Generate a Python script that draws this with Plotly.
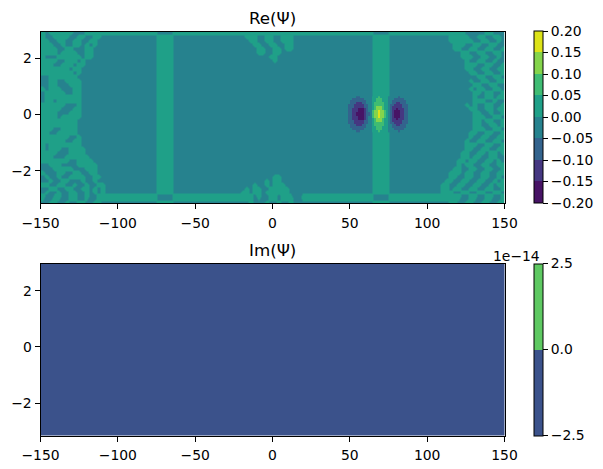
"""Re/Im wavefunction contour panels with stepped viridis colorbars."""

import numpy as np
import plotly.graph_objects as go

W, H = 603, 469
OFFSET = 8  # the page body has an 8px margin, the figure sits inside it
FIG_W, FIG_H = W - OFFSET, H - OFFSET

# band index of each cell (0 = lowest level band), top row first
left_edge = [
    "4344444433344444", "4334444334433443", "4433443344334433", "4443343344343433",
    "4444334433344333", "4444344443344333", "4333444444344333", "4444334443433333",
    "4443344434433333", "4444444344333333", "4444444434333333", "3344444443333333",
    "3344334444333333", "3344333444333333", "4344433344333333", "3444443344333333",
    "3444444444333333", "3443444444333333", "4444443334333333", "4444433344333333",
    "4444333444333333", "4444344444333333", "4444444443333333", "4444444443333333",
    "4443344443333333", "4433444443333333", "4444444334333333", "4444443344333333",
    "4344444444333333", "4344433444433333", "4444333444433333", "4443334444443333",
    "4444444334444333", "3344433334444433", "3334444433344433", "4333443344334433",
    "3433433444433443", "3343344333433433", "4433443343343344", "3344334433443434",
    "3433433443343434", "4334433443343344", "3344334334433443",
]
right_edge = [
    "4444443333344333", "3344444334433443", "3344444433443343", "3334443344334433",
    "3334433443344334", "3333344334433443", "3333344433443343", "3333334334433433",
    "3333334443344334", "3333334433443344", "3333333443344334", "3333333334433443",
    "3333333433443344", "3333333344334433", "3333333434433443", "3333333344344334",
    "3333333343344344", "3333333344433433", "3333334343344334", "3333333443344344",
    "3333333344334334", "3333333344433443", "3333333344344334", "3333333344334434",
    "3333333344433443", "3333333443344334", "3333333433443344", "3333334334433443",
    "3333334443344334", "3333334433443344", "3333344334434434", "3333344344334433",
    "3333443443344343", "3333434433443344", "3334433443344334", "3344434433443344",
    "3344334433443343", "3443344334433434", "4433443344334344", "4434433443344334",
    "4443344334433443", "4444433443344334", "3344334433443344",
]
centre_top = [
    "4444444444444444", "3444334433444333", "3344334433444333", "3334433443344333",
    "3333443344344333", "3333443344333333", "3333333443333333", "3333333343333333",
]
centre_bottom = [
    "3333333344333333", "3333334344333333", "3334334344433333", "3434433444443333",
    "4434434444443333", "4443433443444334", "3343334334334333",
]
blob_rows = [
    "33333223333334445444433333233333",
    "33322222233334455544433322222333",
    "33222222223334455544433222222233",
    "33222111223334555554433221122233",
    "32221111122334555554432211112223",
    "32221111122334566654432111112223",
    "32211100012334566654432110111223",
    "32211100012335667665432100011223",
    "32211000012235667665432100011223",
    "32211000012235667665432100011223",
    "32211100012335667665432100011223",
    "32211100012334566654432110111223",
    "32221111122334566654432111112223",
    "32221111122334555554432211112223",
    "33222111223334555554433221122233",
    "33222222223334455544433222222233",
    "33322222233334455544433322222333",
    "33333223333334445444433333233333",
]

re_levels = [-0.20, -0.15, -0.10, -0.05, 0.00, 0.05, 0.10, 0.15, 0.20]
re_colors = ["#471365", "#453781", "#33638d", "#26828e", "#1fa088", "#3fbc73", "#84d44b", "#dde318"]
im_levels = [-2.5e-14, 0.0, 2.5e-14]
im_colors = ["#3b528b", "#5ec962"]
im_labels = ["\u22122.5", "0.0", "2.5"]
im_value = -1.25e-14
x_ticks = [-150, -100, -50, 0, 50, 100, 150]
y_ticks = [-2, 0, 2]

x_range = [-150, 150]
y_range = [-3.1416, 2.945]

# cell edges of the sampled grids
x_edges = np.linspace(-150, 150, 117)
y_edges = np.concatenate([[2.945], np.linspace(2.856, -2.682, 40), [-2.788, -3.036, -3.1416]])
blob_x = np.linspace(47.84, 89.22, 33)
blob_y = np.linspace(0.645, -0.629, 19)


def stepped_scale(colors):
    scale = []
    n = len(colors)
    for i, c in enumerate(colors):
        scale.append([i / n, c])
        scale.append([(i + 1) / n, c])
    return scale


def to_values(rows):
    # band index -> middle of that level band
    return [[-0.175 + 0.05 * int(ch) for ch in row] for row in rows[::-1]]


def x_paper(px):
    return (px - OFFSET) / FIG_W


def y_paper(py):
    return (H - py) / FIG_H


# stitch the full Re grid together
mid_left = "3" * 13 + "4" * 4 + "3" * 17
mid_left_cross = "4" * 13 + "3" * 4 + "4" * 17
mid_right = "3" * 17 + "4" * 4 + "3" * 13
mid_right_cross = "4" * 17 + "3" * 4 + "4" * 13
re_rows = []
for r in range(43):
    cross = r in (0, 41)
    if r < len(centre_top):
        centre = centre_top[r]
    elif r >= 43 - len(centre_bottom):
        centre = centre_bottom[r - (43 - len(centre_bottom))]
    else:
        centre = "3" * 16
    re_rows.append(left_edge[r] + (mid_left_cross if cross else mid_left) + centre
                   + (mid_right_cross if cross else mid_right) + right_edge[r])
assert all(len(row) == 116 for row in re_rows), [len(row) for row in re_rows]
assert all(len(row) == 32 for row in blob_rows)

font = dict(family="DejaVu Sans", size=13.9, color="black")
title_font = dict(family="DejaVu Sans", size=16.7, color="black")
cb_common = dict(
    thickness=9, thicknessmode="pixels", lenmode="fraction", x=x_paper(534), xanchor="left",
    xpad=0, ypad=0, yanchor="bottom", outlinecolor="black", outlinewidth=1,
    ticks="outside", ticklen=5, tickwidth=1, tickcolor="black", tickfont=font,
)

re_scale = stepped_scale(re_colors)
im_scale = stepped_scale(im_colors)

fig = go.Figure()
fig.add_trace(go.Heatmap(
    x=x_edges, y=y_edges[::-1], z=to_values(re_rows), zsmooth="best",
    zmin=re_levels[0], zmax=re_levels[-1], colorscale=re_scale, hoverinfo="skip",
    colorbar=dict(cb_common, y=y_paper(203), len=171.5 / FIG_H,
                  tickvals=re_levels, tickformat=".2f"),
))
fig.add_trace(go.Heatmap(
    x=blob_x, y=blob_y[::-1], z=to_values(blob_rows),
    zmin=re_levels[0], zmax=re_levels[-1], colorscale=re_scale, showscale=False, hoverinfo="skip",
))
fig.add_trace(go.Heatmap(
    x=x_range, y=y_range, z=[[im_value, im_value], [im_value, im_value]],
    zmin=im_levels[0], zmax=im_levels[-1], colorscale=im_scale, hoverinfo="skip",
    xaxis="x2", yaxis="y2",
    colorbar=dict(cb_common, y=y_paper(435.5), len=171.5 / FIG_H,
                  tickvals=im_levels, ticktext=im_labels),
))

axis = dict(showline=True, mirror=True, linecolor="black", linewidth=1, showgrid=False,
            zeroline=False, ticks="outside", ticklen=5, tickwidth=1, tickcolor="black",
            tickfont=font)
x_domain = [x_paper(40.5), x_paper(504.5)]
fig.update_layout(
    width=FIG_W, height=FIG_H, margin=dict(l=0, r=0, t=0, b=0, autoexpand=False),
    paper_bgcolor="white", plot_bgcolor="white", font=font,
    xaxis=dict(axis, domain=x_domain, range=x_range, tickvals=x_ticks, ticklabelstandoff=2),
    yaxis=dict(axis, domain=[y_paper(203), y_paper(31.5)], range=y_range, tickvals=y_ticks),
    xaxis2=dict(axis, domain=x_domain, range=x_range, tickvals=x_ticks, anchor="y2", ticklabelstandoff=2),
    yaxis2=dict(axis, domain=[y_paper(435.5), y_paper(264)], range=y_range, tickvals=y_ticks, anchor="x2"),
    annotations=[
        dict(text="Re(\u03a8)", x=x_paper(272), y=y_paper(18), xref="paper", yref="paper",
             yanchor="middle", showarrow=False, font=title_font),
        dict(text="Im(\u03a8)", x=x_paper(272), y=y_paper(250), xref="paper", yref="paper",
             yanchor="middle", showarrow=False, font=title_font),
        dict(text="1e\u221214", x=x_paper(542), y=y_paper(256), xref="paper", yref="paper",
             xanchor="right", yanchor="middle", showarrow=False, font=font),
    ],
)

fig.write_html("out.html")
